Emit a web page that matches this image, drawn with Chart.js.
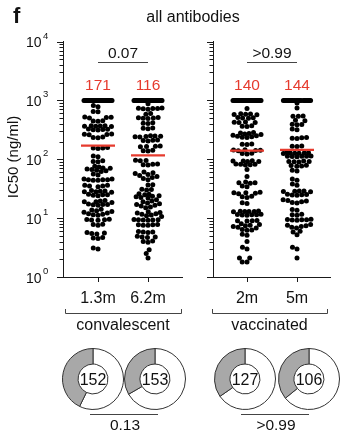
<!DOCTYPE html>
<html>
<head>
<meta charset="utf-8">
<script src="https://cdn.jsdelivr.net/npm/chart.js@4.4.1/dist/chart.umd.min.js"></script>
<style>
  html, body { margin:0; padding:0; background:#fff; }
  #fig { position:relative; width:351px; height:440px; overflow:hidden; background:#fff; }
  #fig canvas { position:absolute; display:block; }
</style>
</head>
<body>
<div id="fig">
  <canvas id="panelL" width="351" height="440" style="left:0;top:0;width:351px;height:440px"></canvas>
  <canvas id="panelR" width="351" height="440" style="left:0;top:0;width:351px;height:440px"></canvas>
  <canvas id="donut0" width="62" height="62" style="left:62px;top:348px;width:62px;height:62px"></canvas>
  <canvas id="donut1" width="62" height="62" style="left:124px;top:348px;width:62px;height:62px"></canvas>
  <canvas id="donut2" width="62" height="62" style="left:214px;top:348px;width:62px;height:62px"></canvas>
  <canvas id="donut3" width="62" height="62" style="left:278px;top:348px;width:62px;height:62px"></canvas>
</div>
<script>
// ---------------- data ----------------
const yMajorTicks = [1, 10, 100, 1000, 10000];
const CAP = 1000; // IC50 >= 1000 ng/ml plotted at the cap

const groupNames = ['convalescent', 'vaccinated'];
const timepoints = [['1.3m', '6.2m'], ['2m', '5m']];
const medians = [[171, 116], [140, 144]];
const pTop = ['0.07', '>0.99'];
const pDonut = ['0.13', '>0.99'];
const capCounts = [[43, 45], [25, 22]];

const conv13 = [
  820, 780, 650, 640, 520, 515, 510, 500, 450, 445, 440,
  372, 370, 368, 365, 362, 360, 325, 322, 320, 318, 315,
  268, 265, 262, 260, 238, 235, 232,
  158, 156, 155, 152, 114, 110, 94, 92, 91,
  76, 74, 71, 70, 68, 67, 65, 64, 62, 56, 54,
  46, 46, 45, 45, 45, 44, 44, 36, 36, 35, 35, 34,
  29.5, 29, 28.5, 28, 28, 27.5, 25.5, 25, 25, 24.5, 24,
  20, 19.5, 19, 19, 18.5, 17.3, 17.1, 17, 16.8, 16.5,
  14.2, 13.8, 13.4, 13, 12.6, 12.2, 11.9, 11.6, 11.4, 11.2,
  9.6, 9.5, 9.4, 9.3, 9.2, 7.9, 7.8, 7.6,
  5.7, 5.6, 5.5, 5.4, 4.7, 4.6, 4.5, 3.1, 3.0
];
const conv62 = [
  880, 740, 735, 730, 725, 720, 710, 600, 580,
  510, 505, 500, 495, 490, 415, 410, 405, 340, 335, 330,
  250, 248, 245, 243, 240, 238, 212, 210, 208, 205,
  168, 166, 165, 163, 142, 140, 138,
  96, 95, 94, 83, 82, 81, 80,
  61, 59, 57, 55, 53, 51, 49, 47, 45, 37, 36.5, 31, 30.5, 30,
  26, 25.5, 25, 24, 23.5, 23, 22.5, 22,
  20.5, 19.5, 19, 18, 17.5, 17, 16.5, 16, 15.5, 15,
  12.8, 12.5, 12.2, 11.9, 11.6, 11.3, 11, 10.7,
  9.5, 9.4, 9.4, 9.3, 9.3, 9.2, 7.8, 7.7, 7.7, 7.6, 7.6,
  5.9, 5.8, 5.8, 5.7, 4.9, 4.8, 4.8, 4.7, 4.1, 4.0, 3.9,
  2.9, 2.5, 2.1
];
const vacc2 = [
  730, 590, 585, 580, 575, 570, 510, 505, 500, 498,
  430, 425, 422, 420, 370, 365, 360,
  285, 280, 275, 268, 262, 256, 250, 245, 240, 236, 233,
  182, 180, 178, 145, 143, 142, 141, 139, 126, 125, 123,
  94, 93, 93, 92, 92, 83, 82, 82, 81, 80, 67, 51,
  41, 40, 40, 39, 35, 34, 27.5, 27, 27, 26.5, 26, 23.5, 23, 22.5,
  18.2, 17.8, 13.2, 13.1, 13, 13, 12.9, 12.8,
  11.6, 11.5, 11.4, 11.4, 11.3, 11.2, 9.1, 9.0, 9.0, 8.9,
  8.0, 7.8, 7.6, 7.4, 7.2, 7.0, 6.8, 6.4, 6.3, 6.2,
  5.3, 5.1, 4.0, 3.2, 3.0, 2.1, 2.1, 1.8, 1.8
];
const vacc5 = [
  900, 740, 545, 540, 535, 460, 450, 395, 390, 385, 325, 318,
  235, 232, 228, 225, 168, 166, 164,
  130, 129, 128, 128, 127, 126, 125, 114, 113, 112, 112, 111, 110,
  93, 92, 92, 91, 90, 79, 78, 77, 76, 65, 63,
  46, 44, 38, 36, 29, 28.8, 28.5, 28.2, 28, 25.5, 25.2, 25, 24.8, 24.5,
  20.5, 20, 19.5, 19, 18.5, 18, 14, 13.6, 11.6, 11.4, 11.2,
  9.6, 9.5, 9.4, 9.4, 9.3, 9.2, 7.8, 7.6, 7.4, 7.2, 7.0, 6.8,
  6.0, 5.8, 5.2, 3.2, 3.0, 2.1
];
const panelValues = [[conv13, conv62], [vacc2, vacc5]];

const donutTotals = [152, 153, 127, 106];
const donutGray = [65, 51, 44, 38];

// ---------------- style ----------------
const FONT = '"Liberation Sans", Arial, Helvetica, sans-serif';
const RED = '#e63b2e', INK = '#111', AXIS = '#1a1a1a', LINE = '#444', GRAY = '#a8a8a8';
const DOT_R = 2.5, DOT_D = 4.8, HALF_W = 14;

const panelLayout = [
  { canvas: 'panelL', padding: { left: 63, right: 169, top: 41.5, bottom: 163 }, xMin: -0.7, xMax: 1.68, bracket: [65, 181], dBracket: [90, 158] },
  { canvas: 'panelR', padding: { left: 213, right: 21, top: 41.5, bottom: 163 }, xMin: -0.68, xMax: 1.66, bracket: [212, 327], dBracket: [241, 309] }
];

// beeswarm offsets computed in pixel space via the chart's scales
function swarm(chart, values, gi) {
  const xs = chart.scales.x, ys = chart.scales.y;
  const cx = xs.getPixelForValue(gi);
  const pts = values.map(v => ({ v, py: ys.getPixelForValue(v), dx: 0 }));
  pts.sort((a, b) => a.v - b.v);
  const placed = [];
  for (const p of pts) {
    const near = placed.filter(q => Math.abs(q.py - p.py) < DOT_D);
    const ivs = near.map(q => { const w = Math.sqrt(DOT_D * DOT_D - (q.py - p.py) ** 2); return [q.dx - w, q.dx + w]; });
    const cands = [0];
    ivs.forEach(([a, b]) => cands.push(a, b));
    const free = cands.filter(c => Math.abs(c) <= HALF_W + 1e-6 && ivs.every(([a, b]) => c <= a + 1e-6 || c >= b - 1e-6));
    if (free.length) {
      free.sort((a, b) => (Math.abs(a) - Math.abs(b)) || (a - b));
      p.dx = free[0];
    } else {
      let best = 0, bestD = -1;
      for (let c = -HALF_W; c <= HALF_W + 1e-6; c += 0.25) {
        let md = Infinity;
        near.forEach(q => { const d = Math.hypot(q.dx - c, q.py - p.py); if (d < md) md = d; });
        if (md > bestD + 1e-9 || (Math.abs(md - bestD) < 1e-9 && Math.abs(c) < Math.abs(best))) { bestD = md; best = c; }
      }
      p.dx = best;
    }
    placed.push(p);
  }
  return pts.map(p => ({ x: xs.getValueForPixel(cx + p.dx), y: p.v }));
}

function panelPlugin(k) {
  const L = panelLayout[k];
  return {
    id: 'panelDecor' + k,
    afterDraw(chart) {
      const { ctx, chartArea: a } = chart;
      const xs = chart.scales.x, ys = chart.scales.y;
      ctx.save();
      ctx.strokeStyle = AXIS; ctx.lineWidth = 1;
      ctx.beginPath();
      yMajorTicks.forEach((base, d) => {
        const py = Math.round(ys.getPixelForValue(base)) + 0.5;
        ctx.moveTo(a.left - 6, py); ctx.lineTo(a.left, py);
        if (d < yMajorTicks.length - 1) {
          for (let m = 2; m <= 9; m++) {
            const q = Math.round(ys.getPixelForValue(base * m)) + 0.5;
            ctx.moveTo(a.left - 3.5, q); ctx.lineTo(a.left, q);
          }
        }
      });
      timepoints[k].forEach((t, i) => {
        const px = Math.round(xs.getPixelForValue(i)) + 0.5;
        ctx.moveTo(px, a.bottom); ctx.lineTo(px, a.bottom + 5);
      });
      ctx.stroke();

      ctx.fillStyle = INK;
      if (k === 0) {
        yMajorTicks.forEach(v => {
          const py = ys.getPixelForValue(v);
          const exp = String(Math.round(Math.log10(v)));
          ctx.textAlign = 'right'; ctx.textBaseline = 'alphabetic';
          ctx.font = `14px ${FONT}`; ctx.fillText('10', 41.5, py + 5.5);
          ctx.textAlign = 'left'; ctx.font = `9.5px ${FONT}`; ctx.fillText(exp, 43, py - 3);
        });
        ctx.textAlign = 'left';
        ctx.font = `bold 22px ${FONT}`; ctx.fillText('f', 13, 23);
        ctx.textAlign = 'center';
        ctx.font = `16px ${FONT}`; ctx.fillText('all antibodies', 193, 22);
        ctx.save();
        ctx.translate(17.5, 157); ctx.rotate(-Math.PI / 2);
        ctx.font = `15px ${FONT}`; ctx.fillText('IC50 (ng/ml)', 0, 0);
        ctx.restore();
      }
      ctx.textAlign = 'center'; ctx.textBaseline = 'alphabetic';
      // top comparison
      const x0 = xs.getPixelForValue(0), x1 = xs.getPixelForValue(1);
      ctx.strokeStyle = LINE;
      ctx.beginPath(); ctx.moveTo(x0, 62.5); ctx.lineTo(x1, 62.5); ctx.stroke();
      ctx.font = `15.5px ${FONT}`; ctx.fillText(pTop[k], (x0 + x1) / 2, 58);
      // medians
      ctx.fillStyle = RED;
      medians[k].forEach((m, i) => ctx.fillText(String(m), xs.getPixelForValue(i), 90));
      // x labels
      ctx.fillStyle = INK; ctx.font = `16px ${FONT}`;
      timepoints[k].forEach((t, i) => ctx.fillText(t, xs.getPixelForValue(i), 303));
      // group bracket
      const br = L.bracket;
      ctx.beginPath();
      ctx.moveTo(br[0] + 0.5, 309); ctx.lineTo(br[0] + 0.5, 313.5); ctx.lineTo(br[1] + 0.5, 313.5); ctx.lineTo(br[1] + 0.5, 309);
      ctx.stroke();
      ctx.fillText(groupNames[k], (br[0] + br[1]) / 2, 330);
      // donut comparison
      const db = L.dBracket;
      ctx.beginPath(); ctx.moveTo(db[0], 414.5); ctx.lineTo(db[1], 414.5); ctx.stroke();
      ctx.font = `15.5px ${FONT}`;
      ctx.fillText(pDonut[k], (db[0] + db[1]) / 2 + 1, 430);
      ctx.restore();
    }
  };
}

function buildPanel(k) {
  const L = panelLayout[k];
  const datasets = [];
  medians[k].forEach((m, i) => datasets.push({
    type: 'line', data: [{ x: i - 0.34, y: m }, { x: i + 0.34, y: m }],
    borderColor: RED, borderWidth: 2.2, pointRadius: 0, showLine: true, fill: false, clip: false
  }));
  panelValues[k].forEach((vals, i) => {
    const all = vals.concat(new Array(capCounts[k][i]).fill(CAP));
    datasets.push({
      type: 'scatter', data: all.map(v => ({ x: i, y: v })),
      pointRadius: DOT_R, pointHoverRadius: DOT_R, backgroundColor: '#000', borderWidth: 0, clip: false
    });
  });
  const chart = new Chart(document.getElementById(L.canvas), {
    type: 'scatter',
    data: { datasets },
    options: {
      responsive: false, animation: false, events: [],
      layout: { padding: L.padding },
      plugins: { legend: { display: false }, tooltip: { enabled: false } },
      scales: {
        x: { type: 'linear', position: 'bottom', min: L.xMin, max: L.xMax,
             ticks: { display: false }, grid: { display: false, drawTicks: false },
             border: { display: true, color: AXIS, width: 1 }, afterFit(s) { s.height = 0; } },
        y: { type: 'logarithmic', position: 'left', min: 1, max: 10000,
             ticks: { display: false }, grid: { display: false, drawTicks: false },
             border: { display: true, color: AXIS, width: 1 }, afterFit(s) { s.width = 0; } }
      }
    },
    plugins: [panelPlugin(k)]
  });
  panelValues[k].forEach((vals, i) => {
    const ds = chart.data.datasets[medians[k].length + i];
    ds.data = swarm(chart, ds.data.map(p => p.y), i);
  });
  chart.update('none');
}

function buildDonut(j) {
  new Chart(document.getElementById('donut' + j), {
    type: 'doughnut',
    data: { datasets: [{ data: [donutTotals[j] - donutGray[j], donutGray[j]], backgroundColor: ['#ffffff', GRAY], borderColor: '#333', borderWidth: 1 }] },
    options: {
      responsive: false, animation: false, events: [], cutout: '49%',
      layout: { padding: 0 },
      plugins: { legend: { display: false }, tooltip: { enabled: false } }
    },
    plugins: [{
      id: 'center' + j,
      afterDraw(c) {
        const { ctx, chartArea: a } = c;
        ctx.save();
        ctx.fillStyle = INK; ctx.font = `16px ${FONT}`; ctx.textAlign = 'center'; ctx.textBaseline = 'alphabetic';
        ctx.fillText(String(donutTotals[j]), (a.left + a.right) / 2, (a.top + a.bottom) / 2 + 5.5);
        ctx.restore();
      }
    }]
  });
}

buildPanel(0);
buildPanel(1);
[0, 1, 2, 3].forEach(buildDonut);
</script>
</body>
</html>
